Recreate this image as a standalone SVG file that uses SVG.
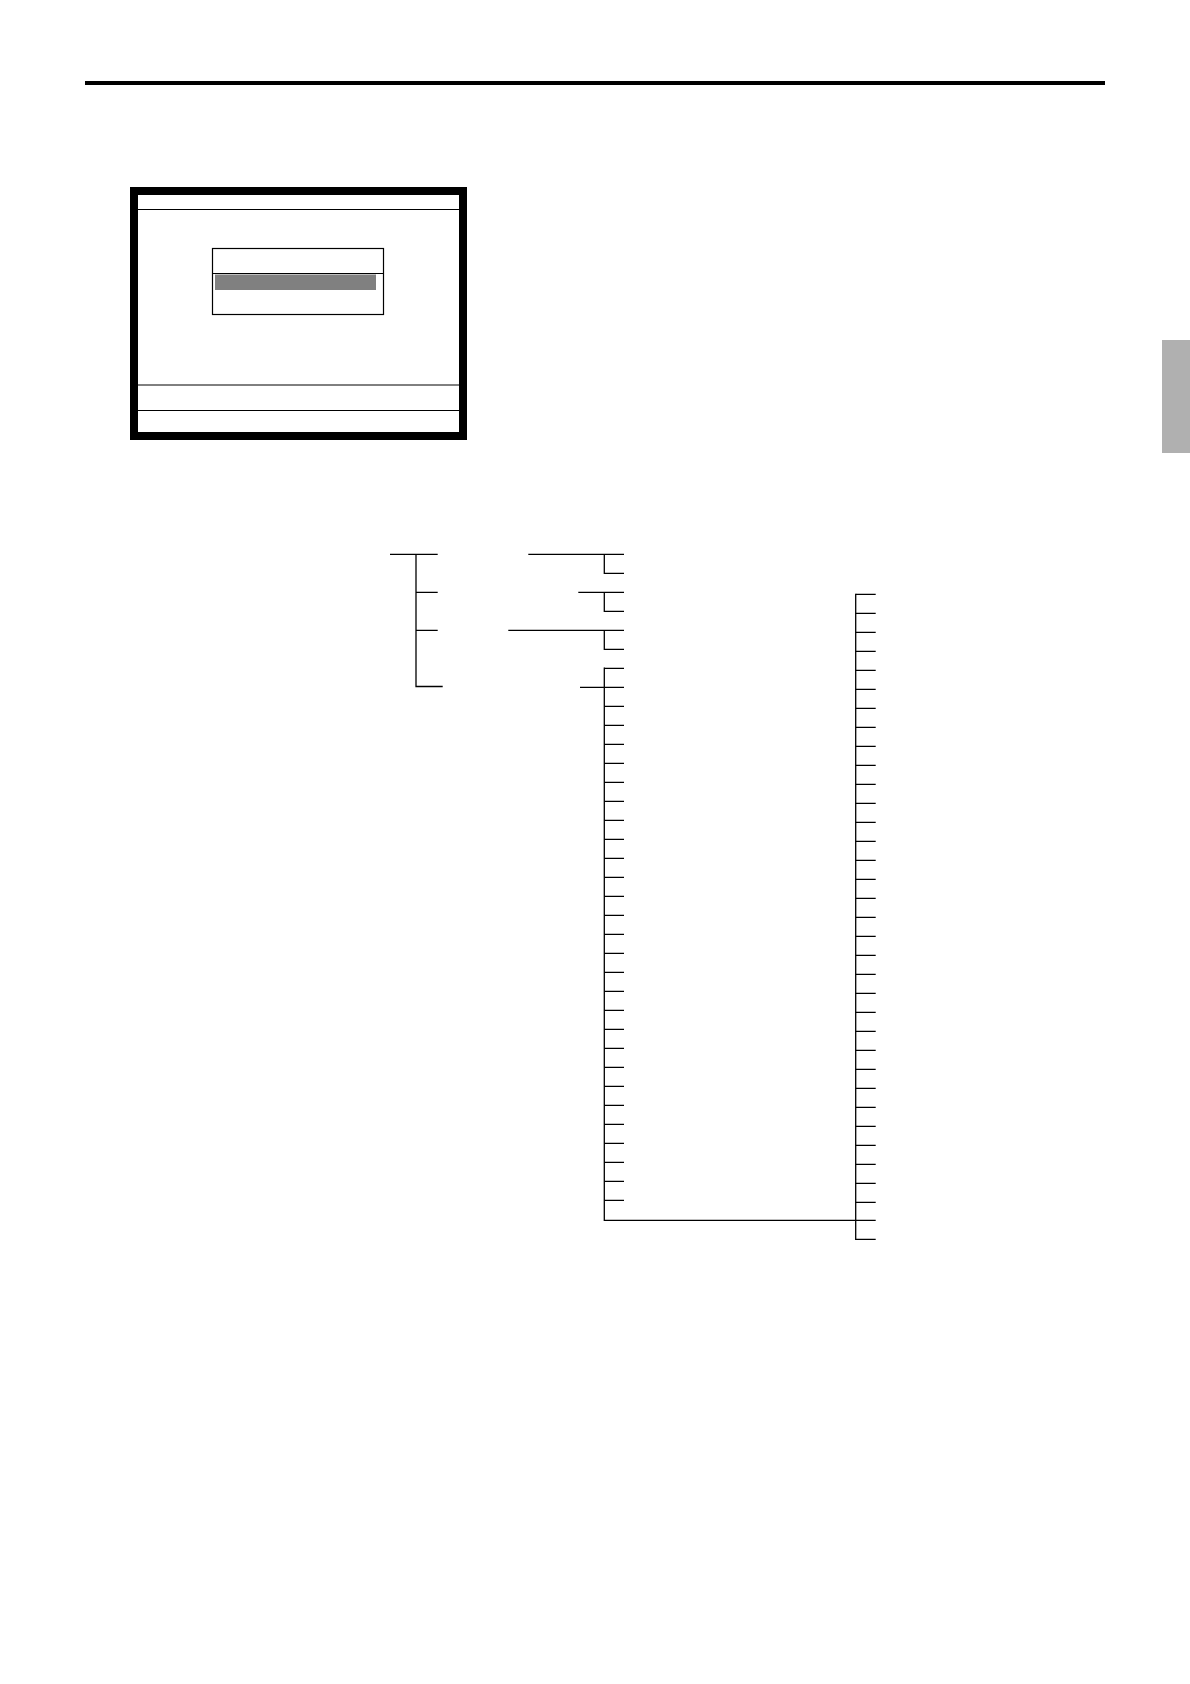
<svg xmlns="http://www.w3.org/2000/svg" width="1190" height="1684" viewBox="0 0 1190 1684">
<style>
.ln{stroke:#000;stroke-width:1.3;fill:none}
.th{stroke:#000;stroke-width:1;fill:none}
</style>
<rect x="0" y="0" width="1190" height="1684" fill="#fff"/>
<g id="header"><line x1="85" y1="83" x2="1105" y2="83" stroke="#000" stroke-width="4"/></g>
<g id="side-tab"><rect x="1162" y="340" width="28" height="113" fill="#b0b0b0"/></g>
<g id="screen">
<rect x="134" y="191" width="329" height="245" fill="#fff" stroke="#000" stroke-width="8"/>
<line class="th" x1="138" y1="209.5" x2="459" y2="209.5"/>
<line class="th" x1="138" y1="385" x2="459" y2="385"/>
<line class="th" x1="138" y1="410.5" x2="459" y2="410.5"/>
<g id="dialog">
<rect x="212.5" y="248.5" width="171" height="66" fill="#fff" stroke="#000" stroke-width="1.2"/>
<line class="th" x1="212.5" y1="273.5" x2="383.5" y2="273.5"/>
<rect x="215" y="274.5" width="161" height="15.5" fill="#808080"/>
</g>
</g>
<g id="connectors">
<path class="ln" d="M390 554.3H437.7M416 554.3V686.5H442.7M416 592.3H437.7M416 630.3H437.7"/>
<path class="ln" d="M528.3 554.3H624M604.3 554.3V573.3H624"/>
<path class="ln" d="M578.3 592.3H624M604.3 592.3V611.3H624"/>
<path class="ln" d="M508.3 630.3H624M604.3 630.3V649.3H624"/>
<path class="ln" d="M580 687.3H604.3M604.3 667.5V1220.3H855.7"/>
<path class="ln" d="M604.3 668.3H624M604.3 687.3H624M604.3 706.3H624M604.3 725.3H624M604.3 744.3H624M604.3 763.3H624M604.3 782.3H624M604.3 801.3H624M604.3 820.3H624M604.3 839.3H624M604.3 858.3H624M604.3 877.3H624M604.3 896.3H624M604.3 915.3H624M604.3 934.3H624M604.3 953.3H624M604.3 972.3H624M604.3 991.3H624M604.3 1010.3H624M604.3 1029.3H624M604.3 1048.3H624M604.3 1067.3H624M604.3 1086.3H624M604.3 1105.3H624M604.3 1124.3H624M604.3 1143.3H624M604.3 1162.3H624M604.3 1181.3H624M604.3 1200.3H624"/>
<path class="ln" d="M855.7 593.7V1239.9"/>
<path class="ln" d="M855.7 594.3H875.7M855.7 613.3H875.7M855.7 632.3H875.7M855.7 651.3H875.7M855.7 670.3H875.7M855.7 689.3H875.7M855.7 708.3H875.7M855.7 727.3H875.7M855.7 746.3H875.7M855.7 765.3H875.7M855.7 784.3H875.7M855.7 803.3H875.7M855.7 822.3H875.7M855.7 841.3H875.7M855.7 860.3H875.7M855.7 879.3H875.7M855.7 898.3H875.7M855.7 917.3H875.7M855.7 936.3H875.7M855.7 955.3H875.7M855.7 974.3H875.7M855.7 993.3H875.7M855.7 1012.3H875.7M855.7 1031.3H875.7M855.7 1050.3H875.7M855.7 1069.3H875.7M855.7 1088.3H875.7M855.7 1107.3H875.7M855.7 1126.3H875.7M855.7 1145.3H875.7M855.7 1164.3H875.7M855.7 1183.3H875.7M855.7 1202.3H875.7M855.7 1220.3H875.7M855.7 1239.3H875.7"/>
</g>
</svg>
